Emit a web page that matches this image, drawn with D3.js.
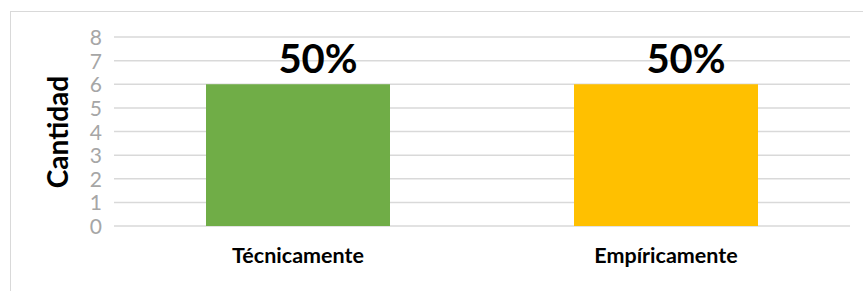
<!doctype html>
<html>
  <head>
    <meta charset="utf-8">
    <title>Cantidad</title>
    <script src="https://cdnjs.cloudflare.com/ajax/libs/d3/7.8.5/d3.min.js"></script>
    <style>
      body { margin: 0; background: #fff; }
      svg text { font-family: Lato, "Open Sans", sans-serif; }
    </style>
  </head>
  <body>
    <div id="chart"></div>
    <script>
      // data
      const categories = ['Técnicamente', 'Empíricamente'];
      const values = [6, 6];
      const percentLabels = ['50%', '50%'];
      const barColors = ['#70ad47', '#ffc000'];
      const yTicks = [0, 1, 2, 3, 4, 5, 6, 7, 8];

      const width = 863, height = 291;
      const margin = {top: 37, right: 13, bottom: 65, left: 114};

      const svg = d3.select('#chart')
        .append('svg')
        .attr('width', width)
        .attr('height', height);

      // chart frame
      svg.append('rect')
        .attr('x', 10.5)
        .attr('y', 11.5)
        .attr('width', 870)
        .attr('height', 300)
        .attr('fill', 'none')
        .attr('stroke', '#d9d9d9');

      const x = d3.scaleBand()
        .domain(categories)
        .range([margin.left, width - margin.right])
        .paddingInner(0.5)
        .paddingOuter(0.25);

      const y = d3.scaleLinear()
        .domain([0, 8])
        .range([height - margin.bottom, margin.top]);

      // gridlines
      svg.append('g')
        .selectAll('line')
        .data(yTicks)
        .join('line')
        .attr('x1', margin.left)
        .attr('x2', width - margin.right)
        .attr('y1', d => y(d))
        .attr('y2', d => y(d))
        .attr('stroke', '#d9d9d9')
        .attr('stroke-width', 1.5);

      // y axis labels
      const yAxis = d3.axisLeft(y).tickValues(yTicks).tickSize(0).tickPadding(12);
      const gy = svg.append('g')
        .attr('transform', `translate(${margin.left},0)`)
        .call(yAxis);
      gy.select('.domain').remove();
      gy.selectAll('text')
        .attr('fill', '#a6a6a6')
        .style('font-size', '21px')
        .attr('dy', '0.36em');

      // bars
      svg.append('g')
        .selectAll('rect')
        .data(values)
        .join('rect')
        .attr('x', (d, i) => x(categories[i]))
        .attr('y', d => y(d))
        .attr('width', x.bandwidth())
        .attr('height', d => y(0) - y(d))
        .attr('fill', (d, i) => barColors[i]);

      // percent labels
      svg.append('g')
        .selectAll('text')
        .data(values)
        .join('text')
        .attr('x', (d, i) => x(categories[i]) + x.bandwidth() / 2 + 20)
        .attr('y', 73)
        .attr('text-anchor', 'middle')
        .attr('fill', '#000')
        .style('font-size', '40px')
        .style('font-weight', 'bold')
        .text((d, i) => percentLabels[i]);

      // category labels
      const xAxis = d3.axisBottom(x).tickSize(0).tickPadding(22);
      const gx = svg.append('g')
        .attr('transform', `translate(0,${y(0)})`)
        .call(xAxis);
      gx.select('.domain').remove();
      gx.selectAll('text')
        .attr('fill', '#000')
        .style('font-size', '21.5px')
        .style('font-weight', 'bold');

      // y axis title
      svg.append('text')
        .attr('transform', 'translate(68,132) rotate(-90)')
        .attr('text-anchor', 'middle')
        .attr('fill', '#000')
        .style('font-size', '28px')
        .style('font-weight', 'bold')
        .text('Cantidad');
    </script>
  </body>
</html>
